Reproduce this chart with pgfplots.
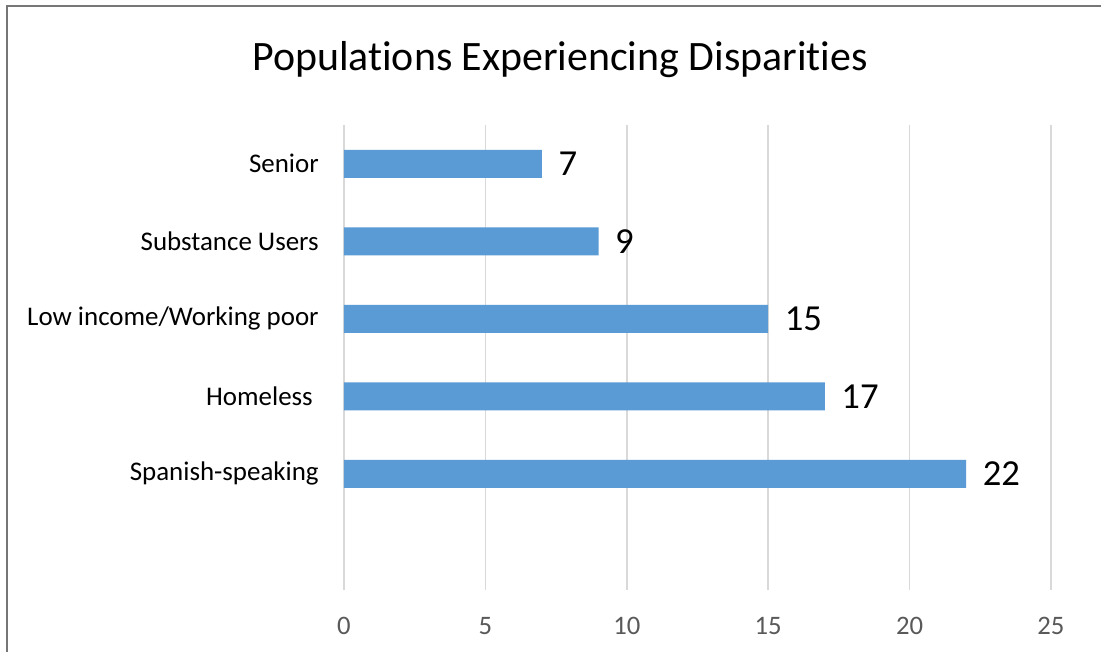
\documentclass[border=0pt]{standalone}
\usepackage{fontspec}
\setmainfont{Carlito}[Ligatures={NoCommon}]
\usepackage{pgfplots}
\pgfplotsset{compat=1.18}
\definecolor{barblue}{HTML}{5B9BD5}
\definecolor{gridgray}{HTML}{D9D9D9}
\definecolor{ticktext}{HTML}{595959}
\definecolor{framegray}{HTML}{767676}
\begin{document}
\begin{tikzpicture}
\useasboundingbox (-258pt,-45.75pt) rectangle (567.75pt,442.5pt);
\fill[white] (-258pt,-45.75pt) rectangle (567.75pt,442.5pt);
\draw[framegray, line width=1.6pt] (-252.75pt,-50pt) -- (-252.75pt,438pt) -- (570pt,438pt);
\begin{axis}[
  at={(0pt,0pt)}, anchor=south west,
  scale only axis,
  width=530.25pt, height=348.75pt,
  xbar, bar width=21pt,
  xmin=0, xmax=25, ymin=-0.5, ymax=5.5,
  xtick={0,5,...,25},
  ytick={1,2,3,4,5},
  yticklabels={Spanish-speaking,{Homeless\rule{4.5pt}{0pt}},Low income/Working poor,Substance Users,Senior},
  major tick length=0pt,
  axis line style={draw=none},
  xmajorgrids, major grid style={gridgray, line width=1.3pt},
  /pgf/number format/assume math mode=true,
  xticklabel style={font=\fontsize{20}{24}\selectfont, text=ticktext, inner sep=0pt, anchor=north, yshift=-20pt},
  yticklabel style={font=\fontsize{20.2}{24}\selectfont, text=black, inner sep=0pt, anchor=east, xshift=-18.75pt},
  nodes near coords,
  every node near coord/.append style={font=\fontsize{27.5}{32}\selectfont, text=black, anchor=west, xshift=9pt},
  clip=false,
]
\addplot[fill=barblue, draw=none] coordinates {(22,1) (17,2) (15,3) (9,4) (7,5)};
\end{axis}
\node[anchor=base, font=\fontsize{31.4}{37}\selectfont] at (162pt,389.5pt) {Populations Experiencing Disparities};
\end{tikzpicture}
\end{document}
